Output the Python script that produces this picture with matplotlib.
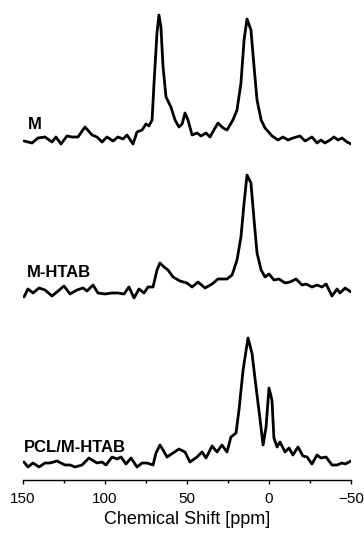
import matplotlib
matplotlib.use('Agg')
import matplotlib.pyplot as plt
from matplotlib.ticker import MultipleLocator

plt.rcParams['font.family'] = ['Liberation Sans', 'DejaVu Sans']

# Chemical shift (ppm) and intensity
m_ppm = [149.4, 144.5, 140.9, 136.6, 132.3, 129.9, 126.8, 123.2, 120.1, 116.5,
         112.2, 107.9, 104.9, 101.8, 98.8, 95.1, 92.1, 89.0, 86.6, 82.9,
         80.5, 77.4, 75.0, 73.2, 71.3, 70.1, 68.3, 67.1, 65.9, 64.6,
         62.8, 59.8, 57.3, 54.9, 53.0, 51.2, 49.4, 46.9, 43.9, 41.5,
         38.4, 36.0, 32.9, 31.1, 28.0, 25.6, 22.0, 19.5, 17.1, 15.2,
         13.4, 11.0, 9.1, 7.3, 4.8, 2.4, -1.9, -5.5, -8.5, -11.6,
         -14.6, -18.9, -22.0, -26.2, -29.3, -31.7, -34.1, -37.2, -39.6, -42.1,
         -44.5, -47.6, -50.0]
m_int = [1, -1, 4, 5, 0, 5, -2, 6, 5, 5,
         15, 7, 5, 0, 5, 1, 5, 3, 7, -2,
         10, 12, 18, 16, 22, 59, 109, 127, 115, 75,
         45, 35, 22, 15, 18, 29, 22, 7, 9, 6,
         9, 5, 14, 19, 14, 12, 22, 32, 59, 102,
         123, 112, 75, 42, 22, 14, 6, 2, 5, 2,
         4, 6, 1, 5, -1, 2, -1, 2, 5, 2,
         4, 0, -2]

mh_ppm = [149.4, 147.0, 143.9, 140.2, 136.6, 132.3, 129.3, 125.0, 121.3, 117.1,
          113.4, 111.0, 107.3, 104.3, 100.0, 95.7, 92.1, 88.4, 85.4, 82.3,
          79.3, 76.2, 73.8, 70.7, 68.3, 66.5, 64.0, 61.6, 58.5, 54.3,
          50.0, 46.9, 43.3, 39.0, 34.7, 31.1, 25.6, 22.5, 19.5, 17.1,
          15.2, 13.4, 11.0, 9.1, 7.3, 4.8, 2.4, 0.0, -3.0, -6.1,
          -9.8, -12.8, -16.5, -20.1, -22.6, -26.2, -29.3, -32.3, -34.8, -38.4,
          -41.5, -43.3, -46.4, -50.0]
mh_int = [-5, 3, -1, 4, 2, -4, 0, 6, -2, 2,
          4, 1, 7, -1, -2, -1, -1, -2, 5, -6,
          3, -1, 5, 5, 22, 29, 25, 22, 15, 11,
          9, 5, 10, 4, 8, 13, 13, 17, 32, 55,
          89, 117, 109, 72, 39, 22, 15, 18, 12, 13,
          9, 10, 13, 7, 8, 5, 7, 5, 8, -4,
          3, -1, 4, 0]

pcl_ppm = [149.4, 147.0, 143.9, 140.2, 136.6, 133.5, 129.3, 124.4, 121.3, 118.3,
           114.0, 109.8, 104.9, 101.8, 99.4, 95.7, 92.7, 90.2, 87.2, 84.1,
           80.5, 77.4, 74.4, 70.7, 68.9, 66.5, 64.6, 62.2, 58.5, 54.9,
           51.2, 48.2, 43.9, 40.8, 38.4, 34.7, 31.7, 28.7, 25.6, 23.2,
           20.1, 18.3, 15.8, 12.8, 10.4, 7.9, 6.7, 4.9, 3.6, 1.8,
           0.0, -1.8, -3.0, -4.9, -6.7, -9.8, -12.2, -14.6, -17.7, -20.7,
           -23.2, -26.2, -29.3, -31.7, -34.8, -38.4, -41.5, -44.5, -46.4, -50.0]
pcl_int = [3, -2, 2, -2, 2, 2, 4, 0, 0, -2,
           0, 7, 2, 3, 0, 8, 6, 8, 1, 7,
           -2, 2, 2, 0, 12, 20, 15, 8, 12, 16,
           13, 3, 8, 13, 7, 19, 13, 20, 13, 28,
           32, 55, 95, 127, 112, 78, 62, 38, 20, 38,
           77, 65, 27, 18, 23, 13, 17, 10, 18, 9,
           8, 1, 10, 7, 8, 0, 0, 2, 1, 4]

labels = ['M', 'M-HTAB', 'PCL/M-HTAB']
offsets = [338, 188, 15]
label_pos = [(147.0, 350.7), (147.6, 202.7), (149.4, 28.3)]

fig = plt.figure(figsize=(3.64, 5.39), dpi=100)
ax = fig.add_axes([23 / 364, 59 / 539, 328 / 364, 480 / 539])

series = [(m_ppm, m_int), (mh_ppm, mh_int), (pcl_ppm, pcl_int)]
for (x, y), off, lab, (tx, ty) in zip(series, offsets, labels, label_pos):
    ax.plot(x, [v + off for v in y], color='black', lw=2.0,
            solid_joinstyle='round', solid_capstyle='round')
    ax.text(tx, ty, lab, fontsize=12, fontweight='bold', ha='left', va='baseline')

ax.set_xlim(150, -50)
ax.set_ylim(0, 480)
for s in ['top', 'left', 'right']:
    ax.spines[s].set_visible(False)
ax.spines['bottom'].set_linewidth(1.0)
ax.set_yticks([])
ax.xaxis.set_major_locator(MultipleLocator(50))
ax.xaxis.set_minor_locator(MultipleLocator(25))
ax.tick_params(axis='x', which='major', length=3.2, width=1.0, labelsize=11, pad=5.2)
ax.tick_params(axis='x', which='minor', length=1.8, width=1.0)
ax.set_xlabel('Chemical Shift [ppm]', fontsize=13, labelpad=3.8)
ax.patch.set_visible(False)

fig.savefig('out.png', dpi=100)
